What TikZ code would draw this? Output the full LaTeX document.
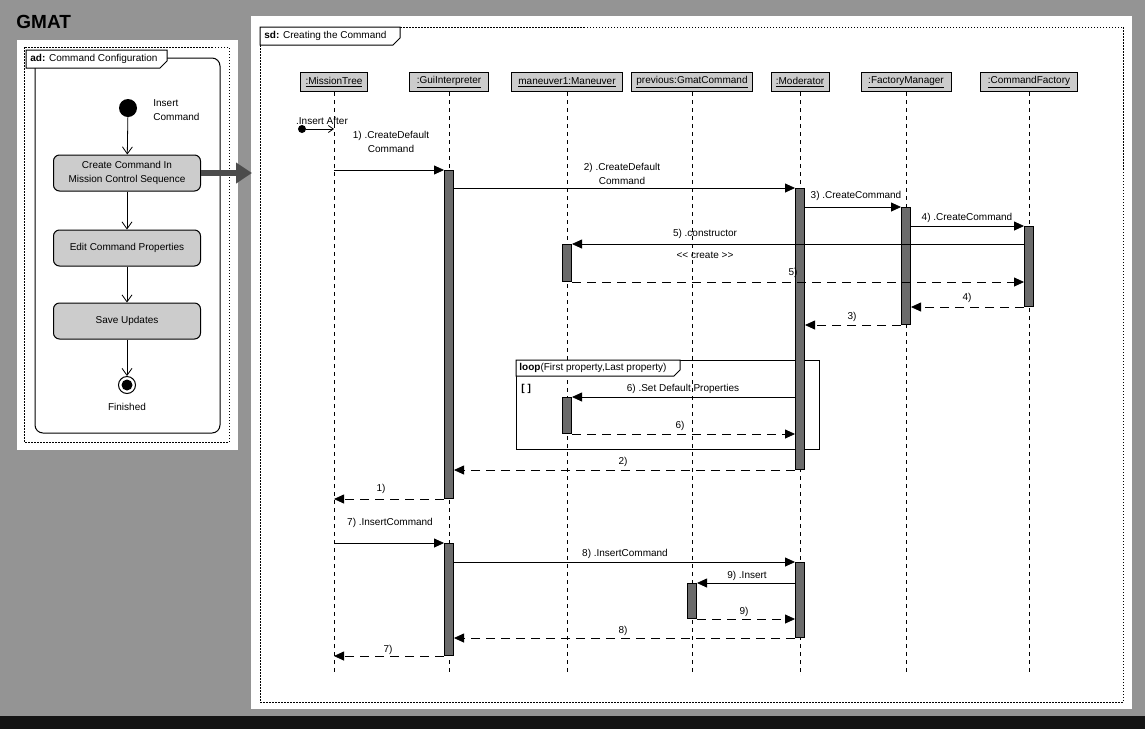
\documentclass[tikz,border=0pt]{standalone}
\usepackage{fontspec}
\setmainfont{Liberation Sans}
\usetikzlibrary{arrows.meta}

\begin{document}
\begin{tikzpicture}[x=1pt,y=-1pt,line width=0.8pt,
    txt/.style={inner sep=0pt,font=\fmsg},
    frm/.style={line width=1pt,dash pattern=on 1.5pt off 1.5pt},
    hdr/.style={draw,line width=1pt,fill=ditherlt,minimum height=19,inner sep=1pt,font=\fmsg},
    lifeline/.style={line width=1pt,dash pattern=on 4pt off 4pt},
    actbar/.style={draw,line width=1pt,fill=ditherdk,minimum width=9,inner sep=0pt,anchor=north},
    actbox/.style={draw,line width=1pt,fill=ditherlt,rounded corners=6,minimum width=147,minimum height=36,align=center,inner sep=0pt,font=\fmsg},
    flow/.style={-{Straight Barb[length=7pt,width=10pt]}},
    msg/.style={-{Triangle[length=10pt,width=9pt]}},
    ret/.style={msg,dash pattern=on 9pt off 6pt}]
\definecolor{ditherbg}{gray}{0.58}
\definecolor{ditherlt}{gray}{0.80}
\definecolor{ditherdk}{gray}{0.42}
\definecolor{shadowdk}{gray}{0.08}
\providecommand{\fmsg}{\fontsize{10}{14}\selectfont}
\useasboundingbox (0,0) rectangle (1145,729);
% backdrop
\fill[ditherbg] (0,0) rectangle (1145,729);
\fill[shadowdk] (0,716) rectangle (1145,729);
\fill[white] (17,40) rectangle (238,450);
\fill[white] (251,16) rectangle (1132,709);
\node[anchor=west,inner sep=0pt,font=\fontsize{19}{22}\selectfont\bfseries] (title) at (16,22) {GMAT};
% activity diagram
\draw[frm] (24,47) rectangle (229,442);
\draw[line width=1pt,rounded corners=8] (35,58) rectangle (220,433);
\draw[line width=1pt,fill=white] (26,50) -- (167,50) -- (167,61) -- (160,68) -- (26,68) -- cycle;
\node[txt,anchor=west] (adtab) at (30,59) {\textbf{ad:} Command Configuration};
\node[circle,fill=black,inner sep=0pt,minimum size=18] (start) at (128,108) {};
\node[txt,anchor=west,align=left] (startlbl) at (153,110) {Insert\\Command};
\node[actbox] (create) at (127,173) {Create Command In\\Mission Control Sequence};
\node[actbox] (edit) at (127,248) {Edit Command Properties};
\node[actbox] (save) at (127,321) {Save Updates};
\node[circle,draw,line width=1pt,inner sep=0pt,minimum size=17] (final) at (127,385) {};
\fill (final) circle (5.5);
\node[txt] (finlbl) at (127,407) {Finished};
\draw[flow] (start) -- (create);
\draw[flow] (create) -- (edit);
\draw[flow] (edit) -- (save);
\draw[flow] (save) -- (final);
\coordinate (sdin) at (252,173);
\draw[line width=6pt,black!70,-{Triangle[length=16pt,width=20pt]}] (create.east) -- (sdin);
% sequence diagram frame
\draw[frm] (260,27) rectangle (1123,702);
\draw[line width=1pt,fill=white] (260,27) -- (400,27) -- (400,38) -- (393,45) -- (260,45) -- cycle;
\node[txt,anchor=west] (sdtab) at (264,36) {\textbf{sd:} Creating the Command};
% lifelines
\node[hdr,minimum width=67] (mtree) at (334,82) {\underline{:MissionTree}};
\node[hdr,minimum width=79] (gui) at (449,82) {\underline{:GuiInterpreter}};
\node[hdr,minimum width=111] (man) at (567,82) {\underline{maneuver1:Maneuver}};
\node[hdr,minimum width=121] (prev) at (692,82) {\underline{previous:GmatCommand}};
\node[hdr,minimum width=58] (mod) at (800,82) {\underline{:Moderator}};
\node[hdr,minimum width=90] (fm) at (906,82) {\underline{:FactoryManager}};
\node[hdr,minimum width=97] (cf) at (1029,82) {\underline{:CommandFactory}};
\coordinate (llend) at (0,675);
\foreach \n in {mtree,gui,man,prev,mod,fm,cf}
  \draw[lifeline] (\n.south) -- (\n |- llend);
% loop fragment
\draw[line width=1pt] (516,360) rectangle (819,449);
\draw[line width=1pt,fill=white] (516,360) -- (680,360) -- (680,370) -- (674,376) -- (516,376) -- cycle;
\node[txt,anchor=west] (looptab) at (519,368) {\textbf{loop}(First property,Last property)};
\node[txt,anchor=west] (guard) at (521,389) {\textbf{[ ]}};
% activations
\node[actbar,minimum height=328] (gui1) at (449,170) {};
\node[actbar,minimum height=281] (mod1) at (800,188) {};
\node[actbar,minimum height=117] (fm1) at (906,207) {};
\node[actbar,minimum height=80] (cf1) at (1029,226) {};
\node[actbar,minimum height=37] (man1) at (567,244) {};
\node[actbar,minimum height=36] (man2) at (567,397) {};
\node[actbar,minimum height=112] (gui2) at (449,543) {};
\node[actbar,minimum height=75] (mod2) at (800,562) {};
\node[actbar,minimum height=35] (prev1) at (692,583) {};
% messages
\node[circle,fill=black,inner sep=0pt,minimum size=8] (found) at (302,129) {};
\draw[-{Straight Barb[length=5pt,width=7pt]}] (found) -- (found -| mtree);
\node[txt] (lfound) at (322,121) {.Insert After};
\draw[msg] (gui1.north west -| mtree) -- (gui1.north west);
\node[txt,align=center] (l1) at (391,142) {1) .CreateDefault\\Command};
\draw[msg] (mod1.north west -| gui1.east) -- (mod1.north west);
\node[txt,align=center] (l2) at (622,174) {2) .CreateDefault\\Command};
\draw[msg] (fm1.north west -| mod1.east) -- (fm1.north west);
\node[txt] (l3) at (856,196) {3) .CreateCommand};
\draw[msg] (cf1.north west -| fm1.east) -- (cf1.north west);
\node[txt] (l4) at (967,218) {4) .CreateCommand};
\draw[msg] (cf1.west |- man1.north) -- (man1.north east);
\node[txt] (l5) at (705,234) {5) .constructor};
\node[txt] (l5s) at (705,255) {<\kern0pt< create >\kern0pt>};
\draw[ret] (man1.south east) -- (man1.south east -| cf1.west);
\node[txt] (r5) at (793,273) {5)};
\draw[ret] (cf1.south west) -- (cf1.south west -| fm1.east);
\node[txt] (r4) at (967,298) {4)};
\draw[ret] (fm1.south west) -- (fm1.south west -| mod1.east);
\node[txt] (r3) at (852,317) {3)};
\draw[msg] (mod1.west |- man2.north) -- (man2.north east);
\node[txt] (l6) at (683,389) {6) .Set Default Properties};
\draw[ret] (man2.south east) -- (man2.south east -| mod1.west);
\node[txt] (r6) at (680,426) {6)};
\draw[ret] (mod1.south west) -- (mod1.south west -| gui1.east);
\node[txt] (r2) at (623,462) {2)};
\draw[ret] (gui1.south west) -- (gui1.south west -| mtree);
\node[txt] (r1) at (381,489) {1)};
\draw[msg] (gui2.north west -| mtree) -- (gui2.north west);
\node[txt] (l7) at (390,523) {7) .InsertCommand};
\draw[msg] (mod2.north west -| gui2.east) -- (mod2.north west);
\node[txt] (l8) at (625,554) {8) .InsertCommand};
\draw[msg] (mod2.west |- prev1.north) -- (prev1.north east);
\node[txt] (l9) at (747,576) {9) .Insert};
\draw[ret] (prev1.south east) -- (prev1.south east -| mod2.west);
\node[txt] (r9) at (744,612) {9)};
\draw[ret] (mod2.south west) -- (mod2.south west -| gui2.east);
\node[txt] (r8) at (623,631) {8)};
\draw[ret] (gui2.south west) -- (gui2.south west -| mtree);
\node[txt] (r7) at (388,650) {7)};
\end{tikzpicture}
\end{document}
